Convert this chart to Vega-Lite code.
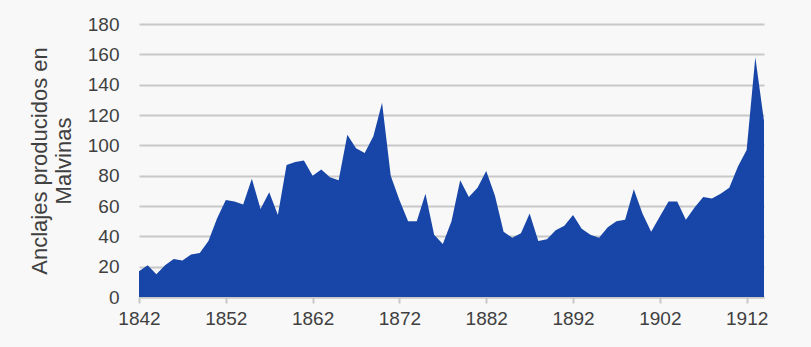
{
  "$schema": "https://vega.github.io/schema/vega-lite/v6.json",
  "width": 625,
  "height": 273,
  "autosize": {"type": "none"},
  "padding": {"left": 139, "top": 24, "right": 47, "bottom": 50},
  "background": "#f8f8f8",
  "config": {
    "view": {"stroke": null},
    "font": "Liberation Sans",
    "axis": {"labelFont": "Liberation Sans", "titleFont": "Liberation Sans", "labelColor": "#404040", "titleColor": "#404040", "labelFontSize": 19, "titleFontWeight": "normal"}
  },
  "data": {
    "values": [
      {"year": 1842, "value": 17}, {"year": 1843, "value": 21}, {"year": 1844, "value": 15},
      {"year": 1845, "value": 21}, {"year": 1846, "value": 25}, {"year": 1847, "value": 24},
      {"year": 1848, "value": 28}, {"year": 1849, "value": 29}, {"year": 1850, "value": 37},
      {"year": 1851, "value": 52}, {"year": 1852, "value": 64}, {"year": 1853, "value": 63},
      {"year": 1854, "value": 61}, {"year": 1855, "value": 78}, {"year": 1856, "value": 58},
      {"year": 1857, "value": 69}, {"year": 1858, "value": 54}, {"year": 1859, "value": 87},
      {"year": 1860, "value": 89}, {"year": 1861, "value": 90}, {"year": 1862, "value": 80},
      {"year": 1863, "value": 84}, {"year": 1864, "value": 79}, {"year": 1865, "value": 77},
      {"year": 1866, "value": 107}, {"year": 1867, "value": 98}, {"year": 1868, "value": 95},
      {"year": 1869, "value": 106}, {"year": 1870, "value": 128}, {"year": 1871, "value": 80},
      {"year": 1872, "value": 64}, {"year": 1873, "value": 50}, {"year": 1874, "value": 50},
      {"year": 1875, "value": 68}, {"year": 1876, "value": 41}, {"year": 1877, "value": 35},
      {"year": 1878, "value": 50}, {"year": 1879, "value": 77}, {"year": 1880, "value": 66},
      {"year": 1881, "value": 72}, {"year": 1882, "value": 83}, {"year": 1883, "value": 67},
      {"year": 1884, "value": 43}, {"year": 1885, "value": 39}, {"year": 1886, "value": 42},
      {"year": 1887, "value": 55}, {"year": 1888, "value": 37}, {"year": 1889, "value": 38},
      {"year": 1890, "value": 44}, {"year": 1891, "value": 47}, {"year": 1892, "value": 54},
      {"year": 1893, "value": 45}, {"year": 1894, "value": 41}, {"year": 1895, "value": 39},
      {"year": 1896, "value": 46}, {"year": 1897, "value": 50}, {"year": 1898, "value": 51},
      {"year": 1899, "value": 71}, {"year": 1900, "value": 55}, {"year": 1901, "value": 43},
      {"year": 1902, "value": 53}, {"year": 1903, "value": 63}, {"year": 1904, "value": 63},
      {"year": 1905, "value": 51}, {"year": 1906, "value": 59}, {"year": 1907, "value": 66},
      {"year": 1908, "value": 65}, {"year": 1909, "value": 68}, {"year": 1910, "value": 72},
      {"year": 1911, "value": 86}, {"year": 1912, "value": 97}, {"year": 1913, "value": 158},
      {"year": 1914, "value": 116}
    ]
  },
  "mark": {"type": "area", "color": "#1746a8", "opacity": 1},
  "encoding": {
    "x": {
      "field": "year", "type": "quantitative",
      "scale": {"domain": [1842, 1914], "nice": false, "zero": false},
      "axis": {
        "values": [1842, 1852, 1862, 1872, 1882, 1892, 1902, 1912],
        "format": "d", "grid": false, "title": null,
        "domainColor": "#c8c8c8", "domainWidth": 2,
        "tickColor": "#c8c8c8", "tickWidth": 2, "tickSize": 6,
        "labelPadding": 6, "labelFlush": false
      }
    },
    "y": {
      "field": "value", "type": "quantitative",
      "scale": {"domain": [0, 180], "nice": false},
      "axis": {
        "values": [0, 20, 40, 60, 80, 100, 120, 140, 160, 180],
        "title": ["Anclajes producidos en", "Malvinas"],
        "titleFontSize": 22, "titleLineHeight": 24, "titlePadding": 12,
        "domain": false, "ticks": false, "tickSize": 0, "labelPadding": 20,
        "gridColor": "#c8c8c8", "gridWidth": 2
      }
    }
  }
}
